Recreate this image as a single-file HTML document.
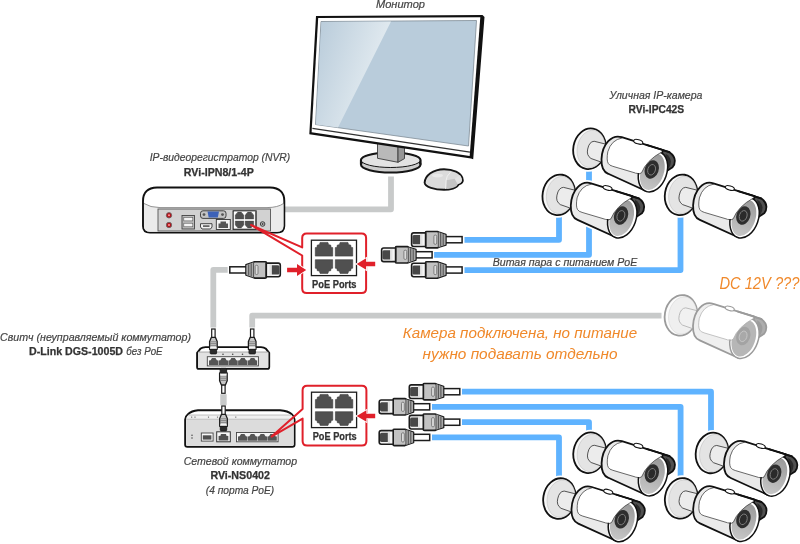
<!DOCTYPE html>
<html lang="ru">
<head>
<meta charset="utf-8">
<title>Схема подключения IP-камер</title>
<style>
html,body{margin:0;padding:0;background:#fff;}
body{width:800px;height:544px;overflow:hidden;position:relative;font-family:"Liberation Sans",sans-serif;}
svg{position:absolute;left:0;top:0;display:block;will-change:transform;}
text{font-family:"Liberation Sans",sans-serif;}
.it{font-style:italic;fill:#444;font-size:10.2px;stroke:#444;stroke-width:0.18px;}
.bd{font-weight:bold;fill:#333;font-size:10.3px;stroke:#333;stroke-width:0.25px;}
.or{font-style:italic;fill:#f0892b;font-size:15px;}
</style>
</head>
<body>
<svg width="800" height="544" viewBox="0 0 800 544">
<defs>
<linearGradient id="faceg" x1="0" y1="0" x2="0" y2="1"><stop offset="0" stop-color="#9a9a9a"/><stop offset="1" stop-color="#c6c6c6"/></linearGradient>
<linearGradient id="scrg" gradientUnits="userSpaceOnUse" x1="312" y1="60" x2="372" y2="80"><stop offset="0" stop-color="#bccedc"/><stop offset="1" stop-color="#e0e9ef"/></linearGradient>
<!-- CAMERA: drawn in a 6.667x frame, origin = bbox offset -->
<g id="cam">
  <g transform="scale(0.15)">
    <!-- disc -->
    <ellipse cx="160" cy="185" rx="108" ry="136" transform="rotate(10 160 185)" fill="#f6f6f6" stroke="#111" stroke-width="12"/>
    <ellipse cx="171" cy="186" rx="93" ry="125" transform="rotate(10 171 186)" fill="#e4e4e4" stroke="#b5b5b5" stroke-width="3"/>
    <!-- arm -->
    <path d="M191,135 L300,162 L270,285 L170,250 Q138,228 148,187 Q158,137 191,135 Z" fill="#ececec" stroke="#222" stroke-width="5" stroke-linejoin="round"/>
    <!-- shield dark end -->
    <path d="M600,180 L693,208 Q728,232 729,265 Q729,292 714,308 L670,336 L600,340 Z" fill="#505050" stroke="#111" stroke-width="12" stroke-linejoin="round"/>
    <path d="M668,218 Q700,238 703,270 Q703,292 690,314 L672,324 Z" fill="#2b2b2b"/>
    <!-- body fill -->
    <path d="M375,108 C310,88 245,150 240,255 C238,310 255,340 285,352 L540,468 L600,340 L650,194 Z" fill="#eaeaea"/>
    <!-- white cover panel -->
    <path d="M379,110 Q305,125 282,205 Q272,262 285,283 Q292,296 315,302 L470,348 Q500,352 528,305 L600,210 L650,194 Z" fill="#fff"/>
    <path d="M379,113 Q305,125 282,205 Q272,262 285,283 Q292,296 315,302 L470,348" fill="none" stroke="#222" stroke-width="4.5"/>
    <!-- body outline -->
    <path d="M375,108 C310,88 245,150 240,255 C238,310 255,340 285,352 L540,468 L600,340 L650,194 Z" fill="none" stroke="#111" stroke-width="12" stroke-linejoin="round"/>
    <!-- bump -->
    <ellipse cx="485" cy="139" rx="31" ry="14" transform="rotate(16 485 139)" fill="#fff" stroke="#111" stroke-width="7"/>
    <!-- front face -->
    <ellipse cx="583" cy="338" rx="92" ry="139" transform="rotate(19 583 338)" fill="#fff" stroke="#111" stroke-width="10"/>
    <ellipse cx="579" cy="339" rx="76" ry="125" transform="rotate(19 579 339)" fill="url(#faceg)"/>
    <ellipse cx="575" cy="323" rx="46" ry="63" transform="rotate(19 575 323)" fill="#2e2e2e"/>
    <ellipse cx="574" cy="325" rx="25" ry="36" transform="rotate(19 574 325)" fill="#2a2a2a" stroke="#7d7d7d" stroke-width="6"/>
    <!-- cover over face (sunshield) -->
    <path d="M470,346 L507,346 Q540,262 642,206 L642,199 L560,174 L440,300 Z" fill="#fff"/>
    <path d="M470,348 Q497,357 507,345 Q540,262 642,206" fill="none" stroke="#222" stroke-width="4.5"/>
    <path d="M540,159.6 L693,208" stroke="#111" stroke-width="12" stroke-linecap="round"/>
  </g>
</g>
<g id="camf">
  <g transform="scale(0.15)">
    <!-- disc -->
    <ellipse cx="160" cy="185" rx="108" ry="136" transform="rotate(10 160 185)" fill="#fbfbfb" stroke="#9b9b9b" stroke-width="12"/>
    <ellipse cx="171" cy="186" rx="93" ry="125" transform="rotate(10 171 186)" fill="#efefef" stroke="#cfcfcf" stroke-width="3"/>
    <!-- arm -->
    <path d="M191,135 L300,162 L270,285 L170,250 Q138,228 148,187 Q158,137 191,135 Z" fill="#f1f1f1" stroke="#a8a8a8" stroke-width="5" stroke-linejoin="round"/>
    <!-- shield dark end -->
    <path d="M600,180 L693,208 Q728,232 729,265 Q729,292 714,308 L670,336 L600,340 Z" fill="#adadad" stroke="#9b9b9b" stroke-width="12" stroke-linejoin="round"/>
    <path d="M668,218 Q700,238 703,270 Q703,292 690,314 L672,324 Z" fill="#9c9c9c"/>
    <!-- body fill -->
    <path d="M375,108 C310,88 245,150 240,255 C238,310 255,340 285,352 L540,468 L600,340 L650,194 Z" fill="#efefef"/>
    <!-- white cover panel -->
    <path d="M379,110 Q305,125 282,205 Q272,262 285,283 Q292,296 315,302 L470,348 Q500,352 528,305 L600,210 L650,194 Z" fill="#fff"/>
    <path d="M379,113 Q305,125 282,205 Q272,262 285,283 Q292,296 315,302 L470,348" fill="none" stroke="#a8a8a8" stroke-width="4.5"/>
    <!-- body outline -->
    <path d="M375,108 C310,88 245,150 240,255 C238,310 255,340 285,352 L540,468 L600,340 L650,194 Z" fill="none" stroke="#9b9b9b" stroke-width="12" stroke-linejoin="round"/>
    <!-- bump -->
    <ellipse cx="485" cy="139" rx="31" ry="14" transform="rotate(16 485 139)" fill="#fff" stroke="#9b9b9b" stroke-width="7"/>
    <!-- front face -->
    <ellipse cx="583" cy="338" rx="92" ry="139" transform="rotate(19 583 338)" fill="#fff" stroke="#9b9b9b" stroke-width="10"/>
    <ellipse cx="579" cy="339" rx="76" ry="125" transform="rotate(19 579 339)" fill="#b6b6b6"/>
    <ellipse cx="575" cy="323" rx="46" ry="63" transform="rotate(19 575 323)" fill="#a3a3a3"/>
    <ellipse cx="574" cy="325" rx="25" ry="36" transform="rotate(19 574 325)" fill="#a9a9a9" stroke="#c6c6c6" stroke-width="6"/>
    <!-- cover over face (sunshield) -->
    <path d="M470,346 L507,346 Q540,262 642,206 L642,199 L560,174 L440,300 Z" fill="#fff"/>
    <path d="M470,348 Q497,357 507,345 Q540,262 642,206" fill="none" stroke="#a8a8a8" stroke-width="4.5"/>
    <path d="M540,159.6 L693,208" stroke="#9b9b9b" stroke-width="12" stroke-linecap="round"/>
  </g>
</g>
<g id="camh">
  <g transform="scale(0.15)" fill="#fff" stroke="#fff" stroke-width="36" stroke-linejoin="round">
    <ellipse cx="160" cy="185" rx="108" ry="136" transform="rotate(10 160 185)"/>
    <path d="M375,108 C310,88 245,150 240,255 C238,310 255,340 285,352 L540,468 L600,340 L650,194 Z"/>
    <path d="M600,180 L693,208 Q728,232 729,265 Q729,292 714,308 L670,336 L600,340 Z"/>
    <ellipse cx="583" cy="338" rx="92" ry="139" transform="rotate(19 583 338)"/>
  </g>
</g>
<!-- RJ45 plug pointing left; origin = left end, y center=0; length 51 -->
<g id="plug">
  <rect x="34" y="-3.1" width="16.8" height="6.2" fill="#fff" stroke="#1c1c1c" stroke-width="1.5"/>
  <path d="M14.3,-7.6 Q14.3,-8.2 15.5,-8.2 L26,-8.2 L28,-7.4 L34.6,-5.2 L34.6,5.2 L28,7.4 L26,8.2 L15.5,8.2 Q14.3,8.2 14.3,7.6 Z" fill="#c2c2c2" stroke="#1c1c1c" stroke-width="1.6" stroke-linejoin="round"/>
  <path d="M27,-7.6 L34.2,-5 L34.2,5 L27,7.6 Z" fill="#a9a9a9"/>
  <path d="M27,-7.8 L27,7.8 M29.4,-6.6 L29.4,6.6 M31.9,-5.6 L31.9,5.6" stroke="#444" stroke-width="0.9" fill="none"/>
  <rect x="22.6" y="-4.6" width="2.8" height="9.2" rx="1.2" fill="#dcdcdc" stroke="#6a6a6a" stroke-width="0.8"/>
  <path d="M2.4,-6.8 L14.3,-6.8 L14.3,6.8 L2.4,6.8 Q0.3,6.8 0.3,4.6 L0.3,-4.6 Q0.3,-6.8 2.4,-6.8 Z" fill="#f4f4f4" stroke="#1c1c1c" stroke-width="1.6" stroke-linejoin="round"/>
  <path d="M2.6,-4.6 L9,-4.6 L9,4.6 L2.6,4.6 Q1.1,4.6 1.1,3 L1.1,-3 Q1.1,-4.6 2.6,-4.6 Z" fill="#474747"/>
  <rect x="9" y="-5.6" width="2.2" height="11.2" fill="#e2e2e2"/>
</g>
<!-- small vertical plug pointing down; origin = top of cable, x center = 0; length 25 -->
<g id="vplug">
  <rect x="-1.7" y="0" width="3.4" height="9.5" fill="#fff" stroke="#1c1c1c" stroke-width="1.2"/>
  <path d="M-2,8.3 L2,8.3 L3.8,12.5 L3.8,20.3 L-3.8,20.3 L-3.8,12.5 Z" fill="#c6c6c6" stroke="#1c1c1c" stroke-width="1.3" stroke-linejoin="round"/>
  <path d="M-3.2,12.8 L3.2,12.8 M-3.2,14.6 L3.2,14.6 M-3.2,16.4 L3.2,16.4" stroke="#6a6a6a" stroke-width="0.7"/>
  <rect x="-3.1" y="17.8" width="6.2" height="2.2" fill="#f4f4f4"/>
  <rect x="-3.2" y="20.3" width="6.4" height="4.6" rx="0.8" fill="#2c2c2c" stroke="#1c1c1c" stroke-width="0.9"/>
</g>
<!-- one RJ45 socket, 18x15 -->
<g id="sock">
  <path d="M0,4 L3,4 L3,1.5 L6,1.5 L6,0 L12,0 L12,1.5 L15,1.5 L15,4 L18,4 L18,15 L0,15 Z" fill="#555"/>
</g>
<!-- PoE callout content -->
<g id="poe">
  <rect x="0" y="0" width="45.1" height="35.4" fill="#fff" stroke="#1c1c1c" stroke-width="1.3"/>
  <path id="skt" d="M3.9,15.9 L3.9,7.4 L5.5,7.2 L5.9,4.9 L8,4.5 L8.7,2.2 L16.5,2.2 L17.2,4.5 L19.3,4.9 L19.7,7.2 L21.3,7.4 L21.3,15.9 Z" fill="#505050" stroke="#3a3a3a" stroke-width="0.6" stroke-linejoin="round"/>
  <use href="#skt" x="20"/>
  <g transform="translate(0,35.4) scale(1,-1)"><use href="#skt"/><use href="#skt" x="20"/></g>
</g>
</defs>

<rect width="800" height="544" fill="#fff"/>

<!-- ===== gray cables ===== -->
<g fill="none" stroke="#c8caca" stroke-width="5.8" stroke-linejoin="round">
  <path d="M391,176.5 L391,209.3 L284,209.3"/>
  <path d="M227.7,269.9 L213.3,269.9 L213.3,327.6"/>
  <path d="M661.5,315.7 L252.2,315.7 L252.2,327.6"/>
  <path d="M223.45,394.2 L223.45,405.2" stroke-width="6.4"/>
</g>

<!-- ===== blue cables ===== -->
<g fill="none" stroke="#5fb3ff" stroke-width="5.8" stroke-linejoin="round">
  <path d="M464.5,239.8 L559,239.8 L559,214"/>
  <path d="M434.1,254.8 L589,254.8 L589,165"/>
  <path d="M464.5,270.1 L680.5,270.1 L680.5,214"/>
  <path d="M462,391.7 L711,391.7 L711,434"/>
  <path d="M432,406.8 L680.6,406.8 L680.6,480"/>
  <path d="M462,422.2 L589,422.2 L589,434"/>
  <path d="M432,437.3 L559,437.3 L559,480"/>
</g>

<!-- ===== monitor ===== -->
<g>
  <!-- stand base -->
  <ellipse cx="390.75" cy="164.6" rx="29.8" ry="7.9" fill="#cdcdcd" stroke="#151515" stroke-width="2.1"/>
  <ellipse cx="390.75" cy="160" rx="29.8" ry="7.5" fill="#e3e3e3" stroke="#151515" stroke-width="1"/>
  <path d="M360.95,164.6 L360.95,160 A29.8,7.5 0 0 1 420.55,160 L420.55,164.6" fill="none" stroke="#151515" stroke-width="2.1"/>
  <!-- neck -->
  <path d="M377.5,140 L398,143 L398,162.3 L377.5,158.3 Z" fill="#b9b9b9" stroke="#3a3a3a" stroke-width="0.9"/>
  <path d="M398,143 L404.5,141 L404.5,158.6 L398,162.3 Z" fill="#969696" stroke="#3a3a3a" stroke-width="0.9"/>
  <!-- bezel -->
  <path d="M316,16 L482.5,15 L484.5,17 L473.2,159.2 L471,158.4 L309.3,134.3 Z" fill="#111"/>
  <path d="M318.2,18 L480.3,17.2 L469.7,155.9 L311.6,132.2 Z" fill="#fff"/>
  <path d="M312.4,128.4 L470,152.2" stroke="#333" stroke-width="1.3"/>
  <!-- screen -->
  <path d="M321,21.5 L476.5,20.5 L468.5,146 L315.5,124.5 Z" fill="#b9ccdb" stroke="#7f8c96" stroke-width="0.8"/>
  <path d="M321.4,22 L391,21.6 L338,127.6 L316,124.4 Z" fill="url(#scrg)"/>
</g>
<!-- mouse -->
<g>
  <path d="M424.6,182.8 C425,175.5 433,169.4 444,169.2 C453,169.2 461,172.6 462.5,178.3 C463.3,181 462,183.5 458.5,184.7 C457,188 450,189.8 444,189.8 C435,189.8 424.6,187 424.6,182.5 Z" fill="#dbdbdb" stroke="#151515" stroke-width="1.9" stroke-linejoin="round"/>
  <path d="M446.5,180.3 L454.7,178.8 L457.7,184.4 Q456,188 446.3,189 Z" fill="#c4c4c4"/>
  <path d="M454.7,178.8 L460,175 Q462,178 461.9,180.5 Q461.5,183 458,184 Z" fill="#e2e2e2"/>
  <path d="M450.5,172.3 Q446.3,176 446.1,180.3 L445.5,188.9" fill="none" stroke="#f2f2f2" stroke-width="0.9"/>
  <ellipse cx="437.5" cy="175.6" rx="5.5" ry="1.8" fill="#e9e9e9"/>
</g>

<!-- ===== NVR ===== -->
<g>
  <path d="M143,201 Q143,188 157,187.5 L270,187.5 Q284.3,188 284.3,201 L284.3,226 Q284.3,232.6 277,232.6 L150,232.6 Q143,232.6 143,226 Z" fill="#fff" stroke="#111" stroke-width="1.9"/>
  <path d="M144,204 Q150,207.5 160,207.6 L267,207.6 Q278,207.5 283.5,204 L283.5,226 Q283.5,231.8 277,231.8 L150,231.8 Q144,231.8 144,226 Z" fill="#ebebeb"/>
  <path d="M144,203.5 Q150,207.5 160,207.6 L267,207.6 Q278,207.5 283.5,203.5" fill="none" stroke="#777" stroke-width="0.8"/>
  <rect x="158" y="209" width="112.5" height="22" fill="#d2d2d2" stroke="#555" stroke-width="0.9"/>
  <!-- audio -->
  <circle cx="169" cy="215.3" r="2.7" fill="#b5121b" stroke="#666" stroke-width="0.8"/>
  <circle cx="169" cy="225" r="2.7" fill="#b5121b" stroke="#666" stroke-width="0.8"/>
  <circle cx="169" cy="215.3" r="1" fill="#ff9a9a"/>
  <circle cx="169" cy="225" r="1" fill="#ff9a9a"/>
  <!-- usb -->
  <rect x="182" y="215.5" width="12.5" height="13.5" fill="#bdbdbd" stroke="#444" stroke-width="0.9"/>
  <rect x="183.8" y="217.3" width="9" height="3.6" fill="#f4f4f4" stroke="#555" stroke-width="0.6"/>
  <rect x="183.8" y="223.2" width="9" height="3.6" fill="#f4f4f4" stroke="#555" stroke-width="0.6"/>
  <!-- vga -->
  <rect x="200.5" y="210.8" width="25.5" height="7.6" rx="2.5" fill="#c4c4c4" stroke="#333" stroke-width="0.9"/>
  <path d="M207.5,211.6 L219,211.6 L217.8,217.4 L208.7,217.4 Z" fill="#3d62b8"/>
  <circle cx="204" cy="214.6" r="1.4" fill="#555"/>
  <circle cx="222.5" cy="214.6" r="1.4" fill="#555"/>
  <!-- hdmi -->
  <path d="M200.5,223.7 L212,223.7 L212,227 L210.5,229 L202,229 L200.5,227 Z" fill="#f1f1f1" stroke="#333" stroke-width="0.9"/>
  <rect x="203" y="225.3" width="6.5" height="1.6" fill="#555"/>
  <!-- lan -->
  <rect x="216.3" y="219.5" width="14" height="10" fill="#f4f4f4" stroke="#333" stroke-width="0.9"/>
  <path d="M218.5,228 L218.5,223.5 L220.5,223.5 L220.5,221.5 L226,221.5 L226,223.5 L228,223.5 L228,228 Z" fill="#555"/>
  <!-- poe x4 -->
  <rect x="233" y="210.8" width="23.3" height="18.8" fill="#f4f4f4" stroke="#333" stroke-width="0.9"/>
  <g transform="translate(233.3,211) scale(0.495,0.51)"><use href="#poe" /></g>
  <!-- power -->
  <circle cx="262.6" cy="224" r="2.3" fill="#bbb" stroke="#333" stroke-width="0.9"/>
  <circle cx="262.6" cy="224" r="0.9" fill="#444"/>
</g>

<!-- red callout 1 -->
<g fill="none" stroke="#e0202a" stroke-width="2" stroke-linejoin="round" stroke-linecap="round">
  <path d="M302.2,247.4 L302.2,237.9 Q302.2,233.4 306.7,233.4 L361.6,233.4 Q366.1,233.4 366.1,237.9 L366.1,288.5 Q366.1,293 361.6,293 L306.7,293 Q302.2,293 302.2,288.5 L302.2,255.5 L251,225 L302.2,247.4"/>
</g>
<g transform="translate(311.4,240.2)"><use href="#poe"/></g>
<text x="334.25" y="287.6" text-anchor="middle" class="bd" textLength="44.5" lengthAdjust="spacingAndGlyphs">PoE Ports</text>
<!-- arrows -->
<path d="M287.1,267.7 L297,267.7 L297,264 L306.2,269.9 L297,275.9 L297,272.2 L287.1,272.2 Z" fill="#e0202a" stroke="#fff" stroke-width="1.8" paint-order="stroke"/>
<path d="M375.2,261.8 L366.1,261.8 L366.1,258.3 L356.7,264 L366.1,269.7 L366.1,266.2 L375.2,266.2 Z" fill="#e0202a" stroke="#fff" stroke-width="1.8" paint-order="stroke"/>

<!-- left plug (pointing right) -->
<g transform="translate(280.6,269.9) scale(-1,1)"><use href="#plug"/></g>

<!-- plugs upper -->
<use href="#plug" x="411.3" y="239.7"/>
<use href="#plug" x="381.3" y="254.8"/>
<use href="#plug" x="411.3" y="270"/>
<!-- plugs lower -->
<use href="#plug" x="409" y="391.7"/>
<use href="#plug" x="378.9" y="406.8"/>
<use href="#plug" x="409" y="422.2"/>
<use href="#plug" x="378.9" y="437.4"/>

<!-- ===== D-Link switch ===== -->
<g>
  <path d="M205.5,347.1 L261,347.1 Q264,347.2 266,348.8 L269.2,352.8 L269.2,367 Q269.2,368.9 267.3,368.9 L199,368.9 Q197.1,368.9 197.1,367 L197.1,352.8 L200.3,348.8 Q202.3,347.2 205.5,347.1 Z" fill="#fff" stroke="#111" stroke-width="1.9" stroke-linejoin="round"/>
  <path d="M198,352 L268.3,352 L268.3,367 Q268.3,368 267.3,368 L199,368 Q198,368 198,367 Z" fill="#e2e2e2"/>
  <path d="M198,352 L268.3,352" stroke="#8a8a8a" stroke-width="0.7"/>
  <circle cx="223" cy="354.3" r="0.8" fill="#444"/><circle cx="232.7" cy="354.3" r="0.8" fill="#444"/><circle cx="242.5" cy="354.3" r="0.8" fill="#444"/>
  <rect x="207.3" y="356.7" width="51.1" height="9.2" fill="#f5f5f5" stroke="#444" stroke-width="0.9"/>
  <g fill="#555">
    <path id="sp" d="M209,365 L209,360.6 L210.6,360.3 L212,358 L215.5,358 L216.9,360.3 L218.3,360.6 L218.3,365 Z"/>
    <use href="#sp" x="9.7"/><use href="#sp" x="19.4"/><use href="#sp" x="29.1"/><use href="#sp" x="38.8"/>
  </g>
</g>
<use href="#vplug" x="213.4" y="329"/>
<use href="#vplug" x="252.2" y="329"/>
<!-- bottom plugs -->
<g transform="translate(223.4,393.3) scale(1,-1)"><use href="#vplug"/></g>

<!-- ===== RVi-NS0402 ===== -->
<g>
  <path d="M198,410.3 L280,410.3 Q288,411 291.5,414 Q294.5,416.5 294.5,419.5 L294.5,444.5 Q294.5,446.7 292.3,446.7 L187.4,446.7 Q185.2,446.7 185.2,444.5 L185.2,419.5 Q185.2,416.5 188.2,414 Q191.5,411 198,410.3 Z" fill="#fff" stroke="#111" stroke-width="2" stroke-linejoin="round"/>
  <path d="M186.2,419.2 Q186.3,416.8 188.2,415 L291.5,415 Q293.4,416.8 293.5,419.2 L293.5,444.5 Q293.5,445.7 292.3,445.7 L187.4,445.7 Q186.2,445.7 186.2,444.5 Z" fill="#f0f0f0"/>
  <path d="M186.2,419.2 L293.5,419.2 L293.5,444.5 Q293.5,445.7 292.3,445.7 L187.4,445.7 Q186.2,445.7 186.2,444.5 Z" fill="#dcdcdc"/>
  <path d="M188.2,415 L291.5,415" stroke="#9a9a9a" stroke-width="0.6"/>
  <path d="M186.2,419.2 L293.5,419.2" stroke="#aaa" stroke-width="0.6"/>
  <g fill="#555"><circle cx="191.7" cy="417.1" r="0.65"/><circle cx="195" cy="417.1" r="0.65"/><circle cx="208.5" cy="417.1" r="0.65"/><circle cx="217.5" cy="417.1" r="0.65"/><circle cx="235.8" cy="417.1" r="0.65"/></g>
  <circle cx="192" cy="435.2" r="0.75" fill="#444"/><circle cx="192" cy="437.9" r="0.75" fill="#444"/>
  <rect x="201.3" y="433" width="11.8" height="8.1" fill="#f7f7f7" stroke="#444" stroke-width="0.9"/>
  <rect x="202.8" y="435.3" width="8.6" height="4.3" fill="#505050"/>
  <rect x="216.7" y="431.8" width="13.6" height="10" fill="#f7f7f7" stroke="#333" stroke-width="1"/>
  <path d="M218.6,440.4 L218.6,436 L220.5,435.8 L220.9,434 L226,434 L226.4,435.8 L228.3,436 L228.3,440.4 Z" fill="#505050"/>
  <rect x="236.5" y="432.5" width="41.6" height="9.3" fill="#f5f5f5" stroke="#444" stroke-width="0.9"/>
  <g fill="#555">
    <path id="sp2" d="M238,440.8 L238,436.6 L239.6,436.3 L241,434 L244.5,434 L245.9,436.3 L247.4,436.6 L247.4,440.8 Z"/>
    <use href="#sp2" x="9.8"/><use href="#sp2" x="19.6"/><use href="#sp2" x="29.4"/>
  </g>
</g>
<use href="#vplug" x="223.5" y="406"/>
<!-- red callout 2 -->
<g fill="none" stroke="#e0202a" stroke-width="2" stroke-linejoin="round" stroke-linecap="round">
  <path d="M302.6,409 L302.6,390.3 Q302.6,385.8 307.1,385.8 L361.9,385.8 Q366.4,385.8 366.4,390.3 L366.4,440.9 Q366.4,445.4 361.9,445.4 L307.1,445.4 Q302.6,445.4 302.6,440.9 L302.6,418.6 L271.6,436.6 L302.6,409"/>
</g>
<g transform="translate(311.5,392.2)"><use href="#poe"/></g>
<text x="334.7" y="439.6" text-anchor="middle" class="bd" textLength="44" lengthAdjust="spacingAndGlyphs">PoE Ports</text>
<path d="M375.2,413.8 L366.4,413.8 L366.4,410.3 L356.7,416 L366.4,421.7 L366.4,418.2 L375.2,418.2 Z" fill="#e0202a" stroke="#fff" stroke-width="1.8" paint-order="stroke"/>

<!-- camera halos -->
<use href="#camh" x="565.5" y="121"/>
<use href="#camh" x="534.8" y="167.1"/>
<use href="#camh" x="657.1" y="167.1"/>
<use href="#camh" x="565.6" y="425"/>
<use href="#camh" x="688" y="425.2"/>
<use href="#camh" x="535.5" y="470.8"/>
<use href="#camh" x="657.2" y="470.6"/>
<!-- ===== cameras ===== -->
<use href="#cam" x="565.5" y="121"/>
<use href="#cam" x="534.8" y="167.1"/>
<use href="#cam" x="657.1" y="167.1"/>
<use href="#camf" x="657" y="287.6"/>
<use href="#cam" x="565.6" y="425"/>
<use href="#cam" x="688" y="425.2"/>
<use href="#cam" x="535.5" y="470.8"/>
<use href="#cam" x="657.2" y="470.6"/>

<!-- ===== texts ===== -->
<text x="400.5" y="7.5" text-anchor="middle" class="it" textLength="49" lengthAdjust="spacingAndGlyphs">Монитор</text>
<text x="220" y="161.4" text-anchor="middle" class="it" textLength="140.6" lengthAdjust="spacingAndGlyphs">IP-видеорегистратор (NVR)</text>
<text x="218.8" y="176" text-anchor="middle" class="bd" textLength="70" lengthAdjust="spacingAndGlyphs">RVi-IPN8/1-4P</text>
<text x="656" y="99.2" text-anchor="middle" class="it" textLength="92.9" lengthAdjust="spacingAndGlyphs">Уличная IP-камера</text>
<text x="656.4" y="113.3" text-anchor="middle" class="bd" textLength="55.6" lengthAdjust="spacingAndGlyphs">RVi-IPC42S</text>
<text x="565" y="266.2" text-anchor="middle" class="it" textLength="144.5" lengthAdjust="spacingAndGlyphs">Витая пара с питанием PoE</text>
<text x="719.4" y="289.4" class="or" style="font-size:16.3px" textLength="80" lengthAdjust="spacingAndGlyphs">DC 12V ???</text>
<text x="520" y="338.3" text-anchor="middle" class="or" textLength="234.4" lengthAdjust="spacingAndGlyphs">Камера подключена, но питание</text>
<text x="520" y="358.6" text-anchor="middle" class="or" textLength="195" lengthAdjust="spacingAndGlyphs">нужно подавать отдельно</text>
<text x="95.5" y="340.5" text-anchor="middle" class="it" textLength="191" lengthAdjust="spacingAndGlyphs">Свитч (неуправляемый коммутатор)</text>
<text x="29" y="355" class="bd" textLength="94" lengthAdjust="spacingAndGlyphs">D-Link DGS-1005D</text>
<text x="126.3" y="355" class="it" textLength="36.2" lengthAdjust="spacingAndGlyphs">без PoE</text>
<text x="240.4" y="464.6" text-anchor="middle" class="it" textLength="113.4" lengthAdjust="spacingAndGlyphs">Сетевой коммутатор</text>
<text x="240.2" y="479" text-anchor="middle" class="bd" textLength="59.6" lengthAdjust="spacingAndGlyphs">RVi-NS0402</text>
<text x="240" y="493.5" text-anchor="middle" class="it" textLength="68.4" lengthAdjust="spacingAndGlyphs">(4 порта PoE)</text>
</svg>
</body>
</html>
